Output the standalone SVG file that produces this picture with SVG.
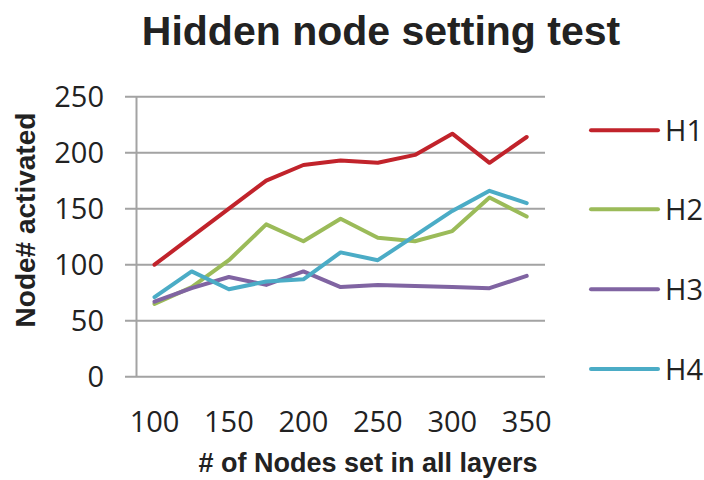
<svg xmlns="http://www.w3.org/2000/svg" width="704" height="480" viewBox="0 0 704 480">
<style>
.grid{stroke:#A3A3A3;stroke-width:2;fill:none}
.ser{fill:none;stroke-width:4;stroke-linejoin:round;stroke-linecap:round}
.tick{font-family:"Open Sans","DejaVu Sans",sans-serif;font-size:29px;fill:#222}
.bold{font-family:"Liberation Sans",Arial,sans-serif;font-weight:bold;fill:#222}
.h1{stroke:#C1232B}.h2{stroke:#9BBB59}.h3{stroke:#8064A2}.h4{stroke:#4BACC6}
</style>
<rect width="704" height="480" fill="#fff"/>
<text class="bold" x="381" y="45" font-size="41" text-anchor="middle">Hidden node setting test</text>
<g id="grid">
<path class="grid" d="M125 96.7H545M125 152.7H545M125 208.7H545M125 264.7H545M125 320.7H545M125 376.7H545M136.5 96.7V376.7"/>
</g>
<g id="yticks" class="tick" text-anchor="end">
<text x="104" y="107.3">250</text>
<text x="104" y="163.3">200</text>
<text x="104" y="219.3">150</text>
<text x="104" y="275.3">100</text>
<text x="104" y="331.3">50</text>
<text x="104" y="387.3">0</text>
</g>
<g id="xticks" class="tick" text-anchor="middle">
<text x="154.5" y="431.5">100</text>
<text x="228.9" y="431.5">150</text>
<text x="303.4" y="431.5">200</text>
<text x="377.8" y="431.5">250</text>
<text x="452.3" y="431.5">300</text>
<text x="526.7" y="431.5">350</text>
</g>
<text class="bold" x="368" y="471.5" font-size="27" text-anchor="middle"># of Nodes set in all layers</text>
<text class="bold" font-size="28" text-anchor="middle" transform="translate(35,220) rotate(-90)">Node# activated</text>
<g id="connectors">
<polyline id="H1" class="ser h1" points="154.5,264.7 191.7,236.7 228.9,208.7 266.2,180.7 303.4,165.0 340.6,160.5 377.8,162.8 415.0,154.9 452.3,133.7 489.5,162.8 526.7,137.0"/>
<polyline id="H2" class="ser h2" points="154.5,303.9 191.7,287.1 228.9,260.2 266.2,224.4 303.4,241.2 340.6,218.8 377.8,237.8 415.0,241.2 452.3,231.1 489.5,197.5 526.7,216.5"/>
<polyline id="H3" class="ser h3" points="154.5,301.7 191.7,288.2 228.9,277.0 266.2,284.9 303.4,271.4 340.6,287.1 377.8,284.9 415.0,286.0 452.3,287.1 489.5,288.2 526.7,275.9"/>
<polyline id="H4" class="ser h4" points="154.5,297.2 191.7,271.4 228.9,289.3 266.2,281.5 303.4,279.3 340.6,252.4 377.8,260.2 415.0,235.6 452.3,210.9 489.5,190.8 526.7,203.1"/>
</g>
<g id="legend">
<g id="leg-H1"><path class="ser h1" d="M591 130.3H658"/><text class="tick" x="665" y="140.8">H1</text></g>
<g id="leg-H2"><path class="ser h2" d="M591 209.3H658"/><text class="tick" x="665" y="219.8">H2</text></g>
<g id="leg-H3"><path class="ser h3" d="M591 289.3H658"/><text class="tick" x="665" y="299.8">H3</text></g>
<g id="leg-H4"><path class="ser h4" d="M591 369H658"/><text class="tick" x="665" y="379.5">H4</text></g>
</g>
</svg>
